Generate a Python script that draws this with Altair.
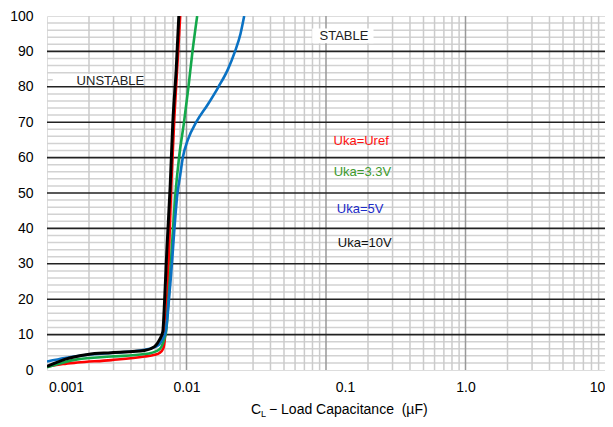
import altair as alt
import pandas as pd

# ---- data ----
red_x = [0.001, 0.0013, 0.00165, 0.00289, 0.005, 0.0059, 0.0064, 0.0068, 0.0070, 0.00712, 0.00735, 0.00777, 0.0082, 0.00901]
red_y = [1.0, 1.7, 2.1, 2.8, 3.8, 4.3, 4.8, 6.0, 9.0, 14.0, 24.0, 52.0, 72.0, 100.0]

green_x = [0.001, 0.00165, 0.00289, 0.005, 0.0062, 0.0066, 0.0069, 0.00715, 0.00755, 0.00834, 0.00884, 0.0096, 0.01033, 0.01104, 0.01193]
green_y = [0.8, 3.0, 3.8, 4.5, 5.5, 6.5, 8.5, 11.0, 24.0, 50.0, 60.0, 70.0, 80.0, 90.0, 100.0]

blue_x = [0.001, 0.00134, 0.00196, 0.00289, 0.005, 0.0063, 0.0067, 0.00707, 0.00764, 0.00862, 0.00901, 0.00941, 0.01022, 0.01174, 0.01421, 0.01696, 0.01984, 0.02227, 0.02439, 0.02592]
blue_y = [2.4, 3.4, 4.3, 4.8, 5.7, 7.0, 8.5, 10.5, 24.0, 50.0, 55.0, 60.0, 65.0, 70.0, 75.0, 80.0, 85.0, 90.0, 95.0, 100.0]

black_x = [0.001, 0.00134, 0.00196, 0.00289, 0.005, 0.0059, 0.0064, 0.00676, 0.00696, 0.00722, 0.00764, 0.00798, 0.00844, 0.00881]
black_y = [1.0, 3.0, 4.4, 4.9, 5.5, 6.6, 8.5, 10.8, 19.3, 33.4, 52.0, 70.0, 85.0, 100.0]

x_tick_values = [0.001, 0.01, 0.1, 1, 10]
x_tick_labels = ["0.001", "0.01", "0.1", "1.0", "10"]
y_tick_values = list(range(0, 101, 10))

x_minor = [m * d for d in [0.001, 0.01, 0.1, 1] for m in range(2, 10)]
x_decades = [0.01, 0.1, 1]
y_minor = [v for v in range(2, 100, 2) if v % 10 != 0]
y_major = list(range(10, 100, 10))

ann_text = ["UNSTABLE", "STABLE", "Uka=Uref", "Uka=3.3V", "Uka=5V", "Uka=10V"]
ann_x = [0.00163, 0.0898, 0.1132, 0.1135, 0.1195, 0.1215]
ann_y = [81.6, 94.4, 64.8, 56.0, 45.4, 35.8]
ann_color = ["#222222", "#222222", "#ff1010", "#3c9a2c", "#1c2cc8", "#111111"]

box_x = [0.0011, 0.0796]
box_x2 = [0.0048, 0.2191]
box_y = [80.6, 92.3]
box_y2 = [83.6, 96.5]

# x-axis title pieces: C, subscript L, rest
title_parts = ["C", "L", "\u2212 Load Capacitance \u00a0(µF)"]

XDOM = [0.001, 10]
YDOM = [0, 100]
FONT = "Liberation Sans"

xs = alt.Scale(type="log", domain=XDOM, nice=False)
ys = alt.Scale(domain=YDOM, nice=False)

label_expr = "[" + ",".join("'%s'" % s for s in x_tick_labels) + "][indexof([" + ",".join(str(v) for v in x_tick_values) + "], datum.value)]"

x_axis = alt.Axis(values=x_tick_values, labelExpr=label_expr, grid=False, ticks=False, domain=False,
                  labelFont=FONT, labelFontSize=14, labelColor="#000", labelPadding=10,
                  labelOffset={"condition": [{"test": "datum.value == 0.001 || datum.value == 0.1", "value": 19},
                                             {"test": "datum.value == 10", "value": -8}], "value": 0},
                  title=None, labelFlush=False)
y_axis = alt.Axis(values=y_tick_values, grid=False, ticks=False, domain=False,
                  labelFont=FONT, labelFontSize=14, labelColor="#000", labelPadding=14, title=None)

def rules_x(vals, color, width):
    return alt.Chart(pd.DataFrame({"x": vals})).mark_rule(color=color, strokeWidth=width).encode(
        x=alt.X("x:Q", scale=xs, axis=x_axis))

def rules_y(vals, color, width):
    return alt.Chart(pd.DataFrame({"y": vals})).mark_rule(color=color, strokeWidth=width).encode(
        y=alt.Y("y:Q", scale=ys, axis=y_axis))

layers = [
    rules_y(y_minor, "#d2d2d2", 1.5),
    rules_x(x_minor, "#cbcbcb", 1.5),
    rules_x(x_decades, "#999999", 1.5),
    rules_y(y_major, "#222222", 1.6),
]

boxes = pd.DataFrame({"x": box_x, "x2": box_x2, "y": box_y, "y2": box_y2})
layers.append(alt.Chart(boxes).mark_rect(color="white").encode(
    x=alt.X("x:Q", scale=xs, axis=x_axis), x2="x2:Q",
    y=alt.Y("y:Q", scale=ys, axis=y_axis), y2="y2:Q"))

for lx, ly, col, w in [(red_x, red_y, "#ff0000", 2.6), (green_x, green_y, "#13a84a", 2.6),
                       (blue_x, blue_y, "#0a72c4", 2.6), (black_x, black_y, "#000000", 3.0)]:
    df = pd.DataFrame({"x": lx, "y": ly})
    layers.append(alt.Chart(df).mark_line(color=col, strokeWidth=w, interpolate="monotone", clip=True).encode(
        x=alt.X("x:Q", scale=xs, axis=x_axis), y=alt.Y("y:Q", scale=ys, axis=y_axis)))

ann = pd.DataFrame({"x": ann_x, "y": ann_y, "t": ann_text, "c": ann_color})
layers.append(alt.Chart(ann).mark_text(align="left", baseline="middle", font=FONT, fontSize=13).encode(
    x=alt.X("x:Q", scale=xs, axis=x_axis), y=alt.Y("y:Q", scale=ys, axis=y_axis),
    text="t:N", color=alt.Color("c:N", scale=None)))

# axis title built from pieces so that L can be a subscript
layers.append(alt.Chart(pd.DataFrame({"t": [title_parts[0]]})).mark_text(
    align="left", baseline="middle", font=FONT, fontSize=14, color="#000").encode(
    text="t:N", x=alt.value(204), y=alt.value(394)))
layers.append(alt.Chart(pd.DataFrame({"t": [title_parts[1]]})).mark_text(
    align="left", baseline="middle", font=FONT, fontSize=9, color="#000").encode(
    text="t:N", x=alt.value(214), y=alt.value(398)))
layers.append(alt.Chart(pd.DataFrame({"t": [title_parts[2]]})).mark_text(
    align="left", baseline="middle", font=FONT, fontSize=14, color="#000").encode(
    text="t:N", x=alt.value(222), y=alt.value(394)))

chart = alt.layer(*layers).properties(
    width=558, height=354,
    autosize=alt.AutoSizeParams(type="none"),
    padding={"left": 39, "top": 8, "right": 0, "bottom": 49},
).configure_view(stroke="#000000", strokeWidth=1.5).configure(background="white")

chart.save("out.html", embed_options={"renderer": "svg", "actions": False})
